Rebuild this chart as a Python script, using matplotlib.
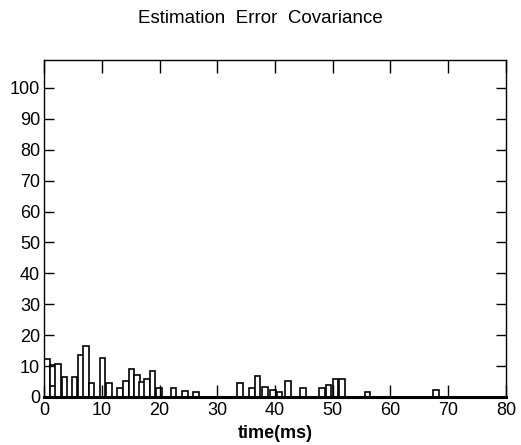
import numpy as np
import matplotlib.pyplot as plt

plt.rcParams['font.family'] = ['Liberation Sans', 'DejaVu Sans']

# histogram bars (bin centre in ms, count)
t_centers = [0.5, 1.5, 1.5, 2.4, 3.5, 5.25, 6.3, 7.25, 8.2, 10.1, 11.15,
             13.1, 14.1, 15.1, 16.05, 16.95, 17.8, 18.75, 19.85, 22.4,
             24.45, 26.35, 33.95, 35.95, 36.95, 38.3, 39.6, 40.75, 42.2,
             44.9, 48.1, 49.25, 50.45, 51.6, 56.0, 67.95]
counts = [12.3, 10.2, 3.5, 10.8, 6.5, 6.3, 13.5, 16.5, 4.6, 12.6, 4.5,
          3.0, 5.1, 9.0, 7.0, 4.8, 5.8, 8.4, 3.0, 3.0,
          2.0, 1.5, 4.6, 3.0, 6.8, 3.2, 2.4, 1.6, 5.2,
          2.9, 3.0, 3.8, 5.8, 5.8, 1.5, 2.4]

x_ticks = np.arange(0, 81, 10)
y_ticks = np.arange(0, 101, 10)

fig = plt.figure(figsize=(5.21, 4.45), dpi=100)
ax = fig.add_axes([0.085, 0.108, 0.886, 0.757])

ax.bar(t_centers, counts, width=1.0, facecolor='white', edgecolor='black',
       linewidth=1.2, align='center')

ax.set_xlim(0, 80)
ax.set_ylim(0, 109)
ax.set_xticks(x_ticks)
ax.set_yticks(y_ticks)
ax.tick_params(axis='both', direction='in', width=1.0,
               labelsize=13, top=True, right=True)
ax.tick_params(axis='x', length=9, pad=4)
ax.tick_params(axis='y', length=7, pad=3)
for s in ax.spines.values():
    s.set_linewidth(1.0)
ax.spines['bottom'].set_linewidth(2.2)

ax.set_xlabel('time(ms)', fontsize=13, fontweight='bold', labelpad=4)
fig.text(0.5, 0.958, 'Estimation  Error  Covariance', ha='center', va='center',
         fontsize=13.5)

plt.savefig('out.png', dpi=100)
plt.close()
